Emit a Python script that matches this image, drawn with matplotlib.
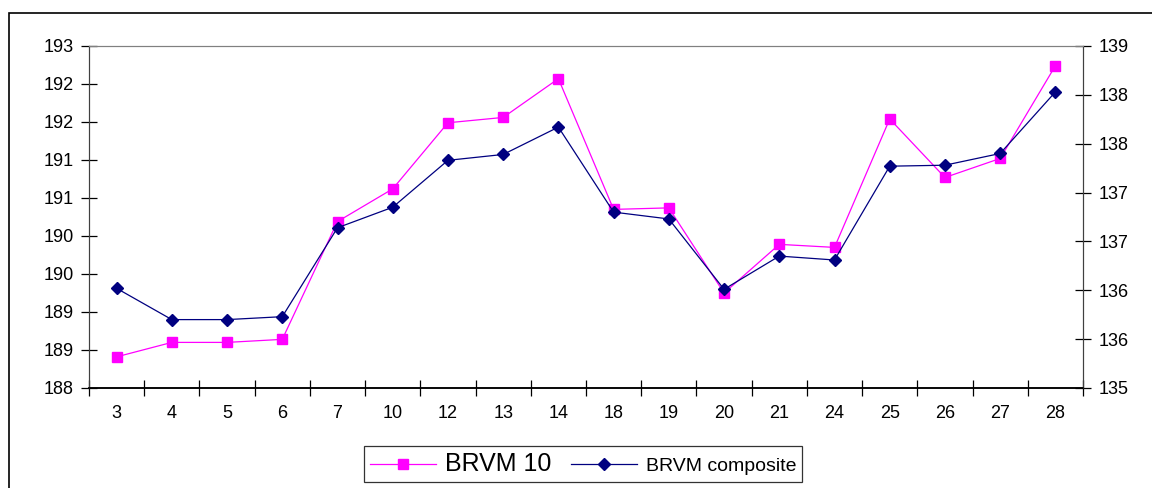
import matplotlib
matplotlib.use("Agg")
import matplotlib.pyplot as plt
from matplotlib.patches import Rectangle
import numpy as np

plt.rcParams['font.family'] = ['Liberation Sans', 'DejaVu Sans']

days = ["3", "4", "5", "6", "7", "10", "12", "13", "14", "18",
        "19", "20", "21", "24", "25", "26", "27", "28"]
brvm10 = [188.41, 188.60, 188.60, 188.64, 190.19, 190.62, 191.49, 191.56, 192.07,
          190.35, 190.37, 189.25, 189.89, 189.85, 191.54, 190.77, 191.02, 192.24]
composite = [136.02, 135.70, 135.70, 135.73, 136.64, 136.85, 137.33, 137.39, 137.67,
             136.80, 136.73, 136.01, 136.35, 136.31, 137.27, 137.28, 137.40, 138.03]
left_ticks = np.arange(188, 192.51, 0.5)
right_ticks = np.arange(135, 138.51, 0.5)


def xl_round(v):
    # excel style rounding (half up)
    return str(int(np.floor(v + 0.5)))


fig = plt.figure(figsize=(11.52, 4.88), dpi=100)
ax = fig.add_axes([89 / 1152, 1 - 388 / 488, (1083 - 89) / 1152, (388 - 46) / 488])
ax2 = ax.twinx()

x = np.arange(len(days))
ax.plot(x, brvm10, color='#FF00FF', lw=0.9, marker='s', ms=7.5,
        mec='#FF00FF', mfc='#FF00FF', label='BRVM 10')
ax2.plot(x, composite, color='#000080', lw=0.9, marker='D', ms=6.5,
         mec='#000080', mfc='#000080', label='BRVM composite')

ax.set_xlim(-0.5, len(days) - 0.5)
ax.set_ylim(188, 192.5)
ax2.set_ylim(135, 138.5)

ax.set_yticks(left_ticks)
ax.set_yticklabels([xl_round(v) for v in left_ticks])
ax2.set_yticks(right_ticks)
ax2.set_yticklabels([xl_round(v) for v in right_ticks])

ax.set_xticks(np.arange(-0.5, len(days), 1.0))
ax.set_xticklabels([])
ax.set_xticks(x, minor=True)
ax.set_xticklabels(days, minor=True)
ax.tick_params(axis='x', which='minor', length=0, pad=12, labelsize=13)
ax.tick_params(axis='x', which='major', direction='inout', length=12, width=0.9)
ax.tick_params(axis='y', direction='inout', length=12, width=0.9, labelsize=13, pad=5)
ax2.tick_params(axis='y', direction='inout', length=12, width=0.9, labelsize=13, pad=5)

for a in (ax, ax2):
    a.spines['top'].set_color('#808080')
    a.spines['top'].set_linewidth(0.8)
    a.spines['left'].set_color('#404040')
    a.spines['right'].set_color('#404040')
    a.spines['bottom'].set_color('black')
    a.spines['bottom'].set_linewidth(1.1)

# outer chart frame (partly cut off)
fig.patches.append(Rectangle((9 / 1152, -0.05), 1.2, 1 - 13 / 488 + 0.05,
                             transform=fig.transFigure, fill=False,
                             edgecolor='black', lw=1.2))

h1, l1 = ax.get_legend_handles_labels()
h2, l2 = ax2.get_legend_handles_labels()
leg = fig.legend(h1 + h2, l1 + l2, ncol=2, loc='center',
                 bbox_to_anchor=(583 / 1152, 1 - 464 / 488),
                 frameon=True, fancybox=False, edgecolor='black',
                 handlelength=3.4, handletextpad=0.45, columnspacing=1.0,
                 borderpad=0.3, borderaxespad=0, fontsize=14)
leg.get_frame().set_linewidth(0.9)
leg.get_texts()[0].set_fontsize(18)
leg.get_texts()[1].set_fontsize(14)

fig.savefig("out.png", dpi=100)
